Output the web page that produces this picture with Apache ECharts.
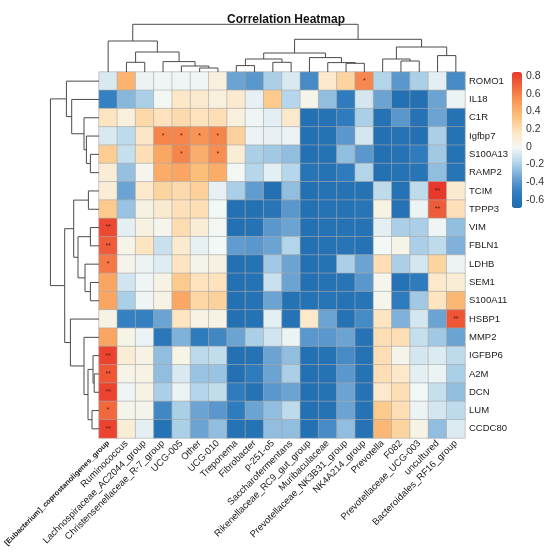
<!DOCTYPE html>
<html>
<head>
<meta charset="utf-8">
<title>Correlation Heatmap</title>
<script src="https://cdn.jsdelivr.net/npm/echarts@6/dist/echarts.min.js"></script>
<style>
  html, body { margin: 0; padding: 0; background: #fff; }
  #chart { width: 550px; height: 553px; }
</style>
</head>
<body>
<div id="chart"></div>
<script>
// columnas (géneros bacterianos), en el orden del dendrograma superior
const columnas = ['[Eubacterium]_coprostanoligenes_group', 'Ruminococcus', 'Lachnospiraceae_AC2044_group',
  'Christensenellaceae_R-7_group', 'UCG-005', 'Other', 'UCG-010', 'Treponema', 'Fibrobacter', 'p-251-o5',
  'Saccharofermentans', 'Rikenellaceae_RC9_gut_group', 'Muribaculaceae', 'Prevotellaceae_NK3B31_group',
  'NK4A214_group', 'Prevotella', 'F082', 'Prevotellaceae_UCG-003', 'uncultured', 'Bacteroidales_RF16_group'];

// filas (genes), de arriba abajo
const filas = ['ROMO1', 'IL18', 'C1R', 'Igfbp7', 'S100A13', 'RAMP2', 'TCIM', 'TPPP3', 'VIM', 'FBLN1',
  'LDHB', 'SEM1', 'S100A11', 'HSBP1', 'MMP2', 'IGFBP6', 'A2M', 'DCN', 'LUM', 'CCDC80'];

// correlaciones, una lista por fila
const ROMO1   = [-0.08, 0.40, -0.03, -0.02, -0.02, -0.02, 0.08, -0.35, -0.40, -0.20, -0.08, -0.45, 0.14, 0.25, 0.57, -0.18, -0.40, -0.20, -0.05, -0.45];
const IL18    = [-0.50, -0.28, -0.20, 0.00, 0.15, 0.13, 0.08, 0.12, -0.04, 0.30, -0.17, 0.03, -0.26, -0.52, -0.09, -0.35, -0.65, -0.65, -0.35, -0.03];
const C1R     = [0.17, 0.08, 0.23, 0.18, 0.22, 0.18, 0.20, 0.08, -0.02, -0.05, 0.13, -0.65, -0.62, -0.52, -0.20, -0.62, -0.40, -0.62, -0.35, -0.62];
const Igfbp7  = [-0.08, -0.15, 0.16, 0.58, 0.58, 0.52, 0.58, 0.26, -0.03, -0.04, -0.03, -0.65, -0.62, -0.40, -0.09, -0.65, -0.62, -0.65, -0.20, -0.62];
const S100A13 = [0.28, -0.13, 0.20, 0.45, 0.58, 0.42, 0.55, 0.10, -0.20, -0.22, -0.26, -0.65, -0.62, -0.26, -0.40, -0.65, -0.62, -0.52, -0.22, -0.62];
const RAMP2   = [0.10, -0.25, 0.02, 0.43, 0.46, 0.35, 0.43, 0.00, -0.17, -0.05, -0.17, -0.60, -0.62, -0.52, -0.18, -0.65, -0.62, -0.60, -0.26, -0.60];
const TCIM    = [0.10, -0.35, 0.14, 0.25, 0.22, 0.27, -0.04, -0.20, -0.38, -0.65, -0.26, -0.65, -0.62, -0.62, -0.62, -0.15, -0.62, -0.15, 0.84, 0.12];
const TPPP3   = [0.30, -0.24, 0.06, 0.12, 0.19, 0.20, -0.01, -0.65, -0.65, -0.60, -0.40, -0.65, -0.62, -0.62, -0.60, 0.05, -0.62, -0.03, 0.72, 0.19];
const VIM     = [0.78, -0.05, 0.06, 0.02, 0.21, 0.10, 0.00, -0.65, -0.62, -0.40, -0.35, -0.65, -0.62, -0.62, -0.62, -0.05, -0.20, -0.20, -0.02, -0.26];
const FBLN1   = [0.72, 0.04, 0.17, -0.12, 0.12, -0.04, -0.01, -0.38, -0.40, -0.35, -0.18, -0.65, -0.62, -0.60, -0.62, -0.01, 0.04, -0.20, -0.15, -0.30];
const LDHB    = [0.62, 0.03, -0.03, -0.06, 0.17, 0.03, 0.06, -0.65, -0.62, -0.22, -0.35, -0.65, -0.62, -0.20, -0.35, 0.20, -0.20, -0.09, 0.25, -0.03];
const SEM1    = [0.46, -0.10, -0.02, 0.05, 0.30, 0.18, 0.18, -0.65, -0.62, -0.12, -0.35, -0.65, -0.62, -0.60, -0.40, 0.02, -0.62, -0.52, 0.14, 0.10];
const S100A11 = [0.46, -0.20, -0.02, 0.05, 0.45, 0.24, 0.26, -0.65, -0.62, -0.35, -0.62, -0.62, -0.60, -0.62, -0.60, 0.02, -0.52, -0.22, 0.17, 0.38];
const HSBP1   = [0.05, -0.50, -0.50, -0.35, 0.17, 0.05, 0.05, -0.65, -0.62, -0.05, -0.62, 0.14, -0.35, -0.62, -0.45, 0.17, -0.30, -0.09, -0.35, 0.74];
const MMP2    = [0.46, 0.04, -0.03, -0.57, -0.30, -0.52, -0.47, -0.35, -0.20, -0.10, -0.03, -0.40, -0.40, -0.35, -0.62, 0.20, 0.20, -0.13, -0.22, -0.35];
const IGFBP6  = [0.80, 0.10, 0.05, -0.26, 0.04, -0.16, -0.14, -0.65, -0.62, -0.35, -0.26, -0.65, -0.62, -0.45, -0.62, 0.20, 0.03, -0.09, -0.07, -0.15];
const A2M     = [0.74, 0.04, 0.05, -0.26, -0.08, -0.24, -0.24, -0.65, -0.52, -0.35, -0.20, -0.65, -0.62, -0.40, -0.62, 0.20, 0.14, -0.05, -0.03, -0.20];
const DCN     = [0.80, -0.02, 0.05, -0.20, -0.03, -0.18, -0.14, -0.52, -0.62, -0.40, -0.35, -0.65, -0.62, -0.35, -0.62, 0.14, 0.20, -0.01, -0.13, -0.26];
const LUM     = [0.68, 0.03, 0.03, -0.47, -0.20, -0.35, -0.40, -0.52, -0.35, -0.26, -0.15, -0.65, -0.62, -0.35, -0.62, 0.30, 0.20, -0.03, -0.09, -0.15];
const CCDC80  = [0.80, 0.10, -0.05, -0.62, -0.20, -0.35, -0.26, -0.62, -0.62, -0.26, -0.26, -0.65, -0.45, -0.26, -0.62, 0.38, 0.25, 0.05, -0.26, -0.07];
const matriz = [ROMO1, IL18, C1R, Igfbp7, S100A13, RAMP2, TCIM, TPPP3, VIM, FBLN1,
  LDHB, SEM1, S100A11, HSBP1, MMP2, IGFBP6, A2M, DCN, LUM, CCDC80];

// significancia: [fila, columna, marca]
const marcas = [[0, 14, '*'], [3, 3, '*'], [3, 4, '*'], [3, 5, '*'], [3, 6, '*'], [4, 4, '*'], [4, 6, '*'],
  [6, 18, '**'], [7, 18, '**'], [13, 19, '**'], [8, 0, '**'], [9, 0, '**'], [10, 0, '*'],
  [15, 0, '**'], [16, 0, '**'], [17, 0, '**'], [18, 0, '*'], [19, 0, '**']];

// dendrogramas: [altura, izquierda, derecha]; las hojas son índices
const arbolColumnas = [47.7,
  [31, 0, [20, [9.7, 1, 2], [10.4, 3, [6, 4, [4, 5, 6]]]]],
  [32.7,
    [19, [13, [6.4, 7, 8], [9.7, 9, 10]], [14.4, 11, [9.4, 12, [8.7, 13, 14]]]],
    [25, [13, 15, [11, 16, 17]], [16.4, 18, 19]]]];
const arbolFilas = [48.6,
  [32.6, 0, [27.3, 1, [15, 2, [12.6, 3, [8.6, 4, 5]]]]],
  [34.3,
    [25.3, [10.6, 6, 7], [21, [8.6, 8, 9], [14, 10, [8.6, 11, 12]]]],
    [28.6, 13, [15, 14, [11, [6, 15, [4.8, 16, 17]], [7, 18, 19]]]]]];

const ticksLeyenda = { min: -0.6, max: 0.8, paso: 0.2 };

const FUENTE = '"Liberation Sans", Arial, sans-serif';
const COLORES = ['#1f6cb0', '#2e7bbd', '#6ba3d3', '#b3d5ea', '#f3f8f5',
  '#fde6c4', '#fcc37e', '#f99a58', '#f26a3e', '#e8352a'];

// recorre el árbol y devuelve los tramos [posIzq, hIzq, posDer, hDer, h]
function tramos(nodo, salida) {
  if (typeof nodo === 'number') return { p: nodo + 0.5, h: 0 };
  const l = tramos(nodo[1], salida), r = tramos(nodo[2], salida);
  salida.push([l.p, l.h, r.p, r.h, nodo[0]]);
  return { p: (l.p + r.p) / 2, h: nodo[0] };
}
const tramosCol = [], tramosFila = [];
tramos(arbolColumnas, tramosCol);
tramos(arbolFilas, tramosFila);

const marcaDe = {};
marcas.forEach(m => { marcaDe[m[0] + '_' + m[1]] = m[2]; });
const celdas = [];
matriz.forEach((fila, r) => fila.forEach((v, c) => celdas.push([c, r, v])));

const LINEA = { stroke: '#4a4a4a', lineWidth: 1, fill: 'none' };
const L = 99, T = 72, W = 366, H = 366;
const SIN_AJUSTE = { outerBoundsMode: 'none', containLabel: false };

const chart = echarts.init(document.getElementById('chart'), null, { renderer: 'canvas' });
chart.setOption({
  backgroundColor: '#fff',
  animation: false,
  textStyle: { fontFamily: FUENTE },
  title: {
    text: 'Correlation Heatmap', left: 222, top: 9,
    textStyle: { fontSize: 12, fontWeight: 'bold', color: '#111', fontFamily: FUENTE }
  },
  grid: [
    Object.assign({ left: L, top: T, width: W, height: H }, SIN_AJUSTE),          // mapa de calor
    Object.assign({ left: L, top: T - 48, width: W, height: 48 }, SIN_AJUSTE),     // dendrograma superior
    Object.assign({ left: L - 49, top: T, width: 49, height: H }, SIN_AJUSTE),     // dendrograma izquierdo
    Object.assign({ left: 521, top: 76, width: 1, height: 124 }, SIN_AJUSTE)       // etiquetas de la barra
  ],
  xAxis: [
    { type: 'category', gridIndex: 0, data: columnas, position: 'bottom',
      axisLine: { show: false }, axisTick: { show: false }, splitLine: { show: false },
      axisLabel: { rotate: 45, fontSize: 9.5, color: '#1a1a1a', margin: 4, interval: 0,
        formatter: (v, i) => i === 0 ? '{b|' + v + '}' : v,
        rich: { b: { fontWeight: 'bold', fontSize: 7.4, color: '#1a1a1a', fontFamily: FUENTE } } } },
    { type: 'value', gridIndex: 1, min: 0, max: 20, show: false },
    { type: 'value', gridIndex: 2, min: 0, max: 49, inverse: true, show: false },
    { type: 'value', gridIndex: 3, show: false }
  ],
  yAxis: [
    { type: 'category', gridIndex: 0, data: filas, inverse: true, position: 'right',
      axisLine: { show: false }, axisTick: { show: false }, splitLine: { show: false },
      axisLabel: { fontSize: 9.5, color: '#1a1a1a', margin: 4, interval: 0 } },
    { type: 'value', gridIndex: 1, min: 0, max: 48, show: false },
    { type: 'value', gridIndex: 2, min: 0, max: 20, inverse: true, show: false },
    { type: 'value', gridIndex: 3, position: 'right',
      min: ticksLeyenda.min, max: ticksLeyenda.max, interval: ticksLeyenda.paso,
      axisLine: { show: false }, axisTick: { show: false }, splitLine: { show: false },
      axisLabel: { fontSize: 10.5, color: '#333', margin: 4,
        formatter: v => Math.abs(v) < 1e-9 ? '0' : v.toFixed(1) } }
  ],
  visualMap: {
    type: 'continuous', seriesIndex: 0, min: -0.69, max: 0.845,
    left: 512, top: 72, itemWidth: 10, itemHeight: 136, padding: 0,
    calculable: false, hoverLink: false, text: null, showLabel: false,
    inRange: { color: COLORES }
  },
  series: [
    { type: 'heatmap', xAxisIndex: 0, yAxisIndex: 0, data: celdas,
      itemStyle: { borderColor: '#a8a8a8', borderWidth: 0.6 },
      label: { show: true, fontSize: 7, color: '#5a1d10', fontFamily: FUENTE,
        formatter: p => marcaDe[p.data[1] + '_' + p.data[0]] || '' },
      emphasis: { disabled: true } },
    { type: 'custom', xAxisIndex: 1, yAxisIndex: 1, data: tramosCol, silent: true,
      encode: { x: [0, 2], y: [1, 3, 4] },
      renderItem: (params, api) => {
        const lp = api.value(0), lh = api.value(1), rp = api.value(2), rh = api.value(3), h = api.value(4);
        return { type: 'polyline', shape: { points: [
          api.coord([lp, lh]), api.coord([lp, h]), api.coord([rp, h]), api.coord([rp, rh])] }, style: LINEA };
      } },
    { type: 'custom', xAxisIndex: 2, yAxisIndex: 2, data: tramosFila, silent: true,
      encode: { x: [1, 3, 4], y: [0, 2] },
      renderItem: (params, api) => {
        const lp = api.value(0), lh = api.value(1), rp = api.value(2), rh = api.value(3), h = api.value(4);
        return { type: 'polyline', shape: { points: [
          api.coord([lh, lp]), api.coord([h, lp]), api.coord([h, rp]), api.coord([rh, rp])] }, style: LINEA };
      } }
  ]
});
</script>
</body>
</html>
